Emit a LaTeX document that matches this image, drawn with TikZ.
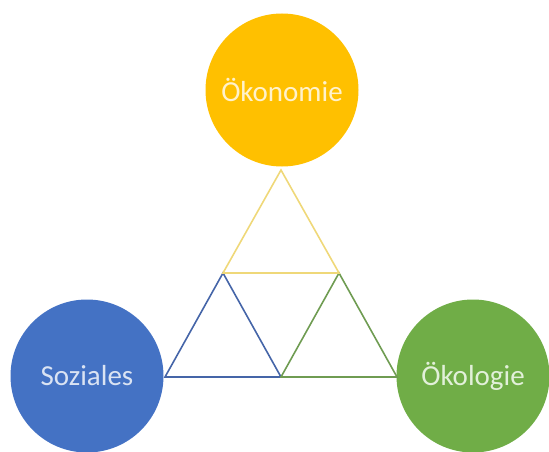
\documentclass[tikz,border=0pt]{standalone}
\usepackage{fontspec}
\setmainfont{Carlito}
\definecolor{ecoY}{HTML}{FFC000}
\definecolor{ecoYtxt}{HTML}{FFF2CC}
\definecolor{ecoYline}{HTML}{EFD879}
\definecolor{socB}{HTML}{4472C4}
\definecolor{socBtxt}{HTML}{DAE3F3}
\definecolor{socBline}{HTML}{4565A8}
\definecolor{envG}{HTML}{70AD47}
\definecolor{envGtxt}{HTML}{E2F0D9}
\definecolor{envGline}{HTML}{6F9C52}
\begin{document}
\begin{tikzpicture}[x=1pt,y=-1pt,
  pillar/.style={circle, minimum size=153pt, inner sep=0pt, font=\fontsize{29}{32}\selectfont},
  tri/.style={line width=1.6pt, line join=miter}]
\useasboundingbox (0,0) rectangle (549,452);
% triangle vertices
\coordinate (T) at (281,170);
\coordinate (ML) at (223,273);
\coordinate (MR) at (339,273);
\coordinate (BL) at (165,377);
\coordinate (BM) at (281,377);
\coordinate (BR) at (397,377);
% circles
\node[pillar, fill=ecoY, text=ecoYtxt] (oek) at (282,90) {Ökonomie};
\node[pillar, fill=socB, text=socBtxt] (soz) at (87,376) {Soziales};
\node[pillar, fill=envG, text=envGtxt] (oko) at (473,376) {Ökologie};
% triangles
\draw[tri, socBline] (ML) -- (BL) -- (BM) -- cycle;
\draw[tri, envGline] (MR) -- (BM) -- (BR) -- cycle;
\draw[tri, ecoYline] (T) -- (ML) -- (MR) -- cycle;
\end{tikzpicture}
\end{document}
